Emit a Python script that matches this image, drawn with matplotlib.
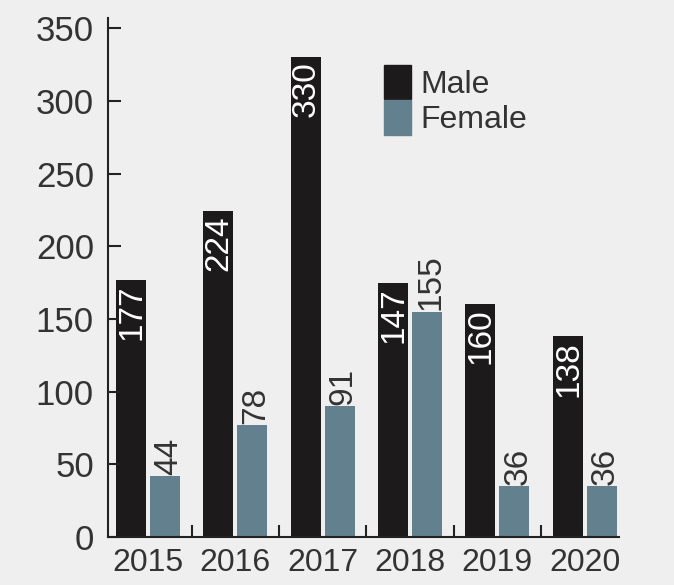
import matplotlib
matplotlib.use("Agg")
import matplotlib.pyplot as plt
import numpy as np
from matplotlib.patches import Patch

years = ["2015", "2016", "2017", "2018", "2019", "2020"]
male = [177, 224, 330, 175, 160, 138]
female = [42, 77, 90, 155, 35, 35]
male_labels = ["177", "224", "330", "147", "160", "138"]
female_labels = ["44", "78", "91", "155", "36", "36"]
yticks = [0, 50, 100, 150, 200, 250, 300, 350]

BG = "#efefef"
MALE_C = "#1c1a1a"
FEMALE_C = "#62808e"
TXT = "#333333"
FONT = "Liberation Sans"

fig = plt.figure(figsize=(6.74, 5.85), dpi=100, facecolor=BG)
ax = fig.add_axes([0.160, 0.082, 0.758, 0.887])
ax.set_facecolor(BG)

x = np.arange(len(years))
w = 0.345
gap = 0.045
xm = x - (w + gap) / 2
xf = x + (w + gap) / 2
ax.bar(xm, male, width=w, color=MALE_C, label="Male")
ax.bar(xf, female, width=w, color=FEMALE_C, label="Female")

fs_val = 24
for xi, v, lab in zip(xm, male, male_labels):
    ax.text(xi + 0.01, v - 3, lab, rotation=90, ha="center", va="top",
            color="white", fontsize=fs_val, family=FONT)
for xi, v, lab in zip(xf, female, female_labels):
    ax.text(xi + 0.04, v + 1, lab, rotation=90, ha="center", va="bottom",
            color=TXT, fontsize=fs_val, family=FONT)

ax.set_xlim(-0.46, 5.39)
ax.set_ylim(0, 357)
ax.set_yticks(yticks)
ax.set_yticklabels([str(t) for t in yticks], fontsize=25, color=TXT,
                   family=FONT)
ax.tick_params(axis="y", direction="in", length=9.5, width=1.5,
               color="#222222", pad=10)

ax.set_xticks(x)
ax.set_xticklabels(years, fontsize=23, color=TXT, family=FONT)
ax.tick_params(axis="x", which="major", length=0, pad=8)
ax.set_xticks(x[:-1] + 0.5, minor=True)
ax.tick_params(axis="x", which="minor", direction="in", length=9, width=1.5,
               color="#222222")

for s in ["top", "right"]:
    ax.spines[s].set_visible(False)
for s in ["left", "bottom"]:
    ax.spines[s].set_linewidth(1.5)
    ax.spines[s].set_color("#222222")

handles = [Patch(color=MALE_C), Patch(color=FEMALE_C)]
leg = ax.legend(handles, ["Male", "Female"], loc="upper left",
                bbox_to_anchor=(0.515, 0.935), frameon=False,
                handlelength=0.85, handleheight=1.3, handletextpad=0.3,
                labelspacing=0.0, borderaxespad=0,
                prop={"family": FONT, "size": 23})
for t in leg.get_texts():
    t.set_color(TXT)

fig.savefig("out.png", dpi=100, facecolor=BG)
